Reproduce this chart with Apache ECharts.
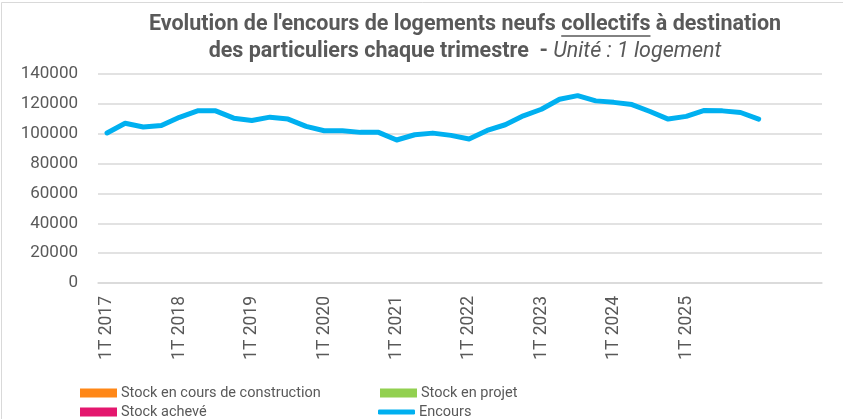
<!DOCTYPE html>
<html><head><meta charset="utf-8">
<script src="https://cdn.jsdelivr.net/npm/echarts@6/dist/echarts.min.js"></script>
<style>html,body{margin:0;padding:0;background:#fff}#c{width:843px;height:419px}</style>
</head><body><div id="c"></div><script>
// Quarterly categories (labels shown on 1st quarter only); trailing slots are empty
const categories = [
  '1T 2017','2T 2017','3T 2017','4T 2017',
  '1T 2018','2T 2018','3T 2018','4T 2018',
  '1T 2019','2T 2019','3T 2019','4T 2019',
  '1T 2020','2T 2020','3T 2020','4T 2020',
  '1T 2021','2T 2021','3T 2021','4T 2021',
  '1T 2022','2T 2022','3T 2022','4T 2022',
  '1T 2023','2T 2023','3T 2023','4T 2023',
  '1T 2024','2T 2024','3T 2024','4T 2024',
  '1T 2025','2T 2025','3T 2025','4T 2025',
  '','','',''
];
const encours = [
  100500, 107000, 104500, 105500, 111000, 115300, 115300, 110400,
  108900, 111100, 109800, 104900, 102000, 102000, 100900, 100900,
  95800, 99300, 100400, 98900, 96500, 102200, 106000, 112000,
  116400, 123100, 125500, 122000, 121000, 119500, 114900, 109800,
  111600, 115600, 115300, 114200, 109800
];
const stockConstruction = [];
const stockProjet = [];
const stockAcheve = [];
const seriesNames = ['Stock en cours de construction', 'Stock en projet', 'Stock achevé', 'Encours'];
const titleLine1 = ["Evolution de l'encours de logements neufs ", 'collectifs', ' à destination'];
const titleLine2 = ['des particuliers chaque trimestre  - ', 'Unité : 1 logement'];
const yMin = 0, yMax = 140000, yStep = 20000;

const FONT = "Roboto, 'Noto Sans', sans-serif";
const GREY = '#595959';
const TITLE_SIZE = 21.5;
const CX = 465;

const chart = echarts.init(document.getElementById('c'), null, {renderer: 'canvas'});

const mctx = document.createElement('canvas').getContext('2d');
function tw(txt, weight, style) {
  mctx.font = (style || 'normal') + ' ' + weight + ' ' + TITLE_SIZE + 'px ' + FONT;
  return mctx.measureText(txt).width;
}
function tstyle(txt, weight, style) {
  return {text: txt, fill: GREY, font: (style || 'normal') + ' ' + weight + ' ' + TITLE_SIZE + 'px ' + FONT,
    textAlign: 'left', textVerticalAlign: 'middle'};
}
const graphics = [
  {type: 'rect', shape: {x: 1.5, y: 2.5, width: 900, height: 500}, style: {fill: 'none', stroke: '#D9D9D9', lineWidth: 1}, silent: true, z: -1}
];
// line 1
const w1 = titleLine1.map(s => tw(s, 'bold'));
let x = CX - (w1[0] + w1[1] + w1[2]) / 2;
const y1 = 25, y2 = 52;
titleLine1.forEach((s, i) => {
  graphics.push({type: 'text', x: x, y: y1, style: tstyle(s, 'bold'), silent: true});
  if (i === 1) {
    graphics.push({type: 'line', shape: {x1: x, y1: y1 + 11, x2: x + w1[i], y2: y1 + 11}, style: {stroke: GREY, lineWidth: 1.3}, silent: true});
  }
  x += w1[i];
});
// line 2
const w2 = [tw(titleLine2[0], 'bold'), tw(titleLine2[1], 'normal', 'italic')];
x = CX - (w2[0] + w2[1]) / 2;
graphics.push({type: 'text', x: x, y: y2, style: tstyle(titleLine2[0], 'bold'), silent: true});
graphics.push({type: 'text', x: x + w2[0], y: y2, style: tstyle(titleLine2[1], 'normal', 'italic'), silent: true});

function legendItem(name, left, top, icon, h) {
  return {left: left, top: top, padding: 0, itemGap: 0, itemWidth: 37, itemHeight: h,
    data: [{name: name, icon: icon}], selectedMode: false,
    textStyle: {color: GREY, fontFamily: FONT, fontSize: 14.5, lineHeight: 18, padding: [0, 0, 0, -1]}};
}

const option = {
  backgroundColor: '#fff',
  animation: false,
  graphic: graphics,
  grid: {left: 98, right: 21, top: 74, bottom: 136, containLabel: false},
  xAxis: {
    type: 'category', data: categories, boundaryGap: true,
    axisLine: {lineStyle: {color: '#D9D9D9', width: 1.5}},
    axisTick: {show: false},
    axisLabel: {interval: 0, rotate: 90, margin: 13, color: GREY, fontFamily: FONT, fontSize: 17.5,
      formatter: v => (v.indexOf('1T') === 0 ? v : '')}
  },
  yAxis: {
    type: 'value', min: yMin, max: yMax, interval: yStep,
    axisLine: {show: false}, axisTick: {show: false},
    splitLine: {lineStyle: {color: '#D9D9D9', width: 1.5}},
    axisLabel: {margin: 20, color: GREY, fontFamily: FONT, fontSize: 17, formatter: v => String(v)}
  },
  legend: [
    legendItem(seriesNames[0], 80, 384, 'rect', 9),
    legendItem(seriesNames[2], 80, 403, 'rect', 9),
    legendItem(seriesNames[1], 380, 384, 'rect', 9),
    legendItem(seriesNames[3], 378, 403, 'roundRect', 5)
  ],
  series: [
    {name: seriesNames[0], type: 'bar', data: stockConstruction, itemStyle: {color: '#FF8717'}},
    {name: seriesNames[1], type: 'bar', data: stockProjet, itemStyle: {color: '#92D050'}},
    {name: seriesNames[2], type: 'bar', data: stockAcheve, itemStyle: {color: '#E4176E'}},
    {name: seriesNames[3], type: 'line', data: encours, symbol: 'none', smooth: false,
      lineStyle: {color: '#00B0F0', width: 5, cap: 'round', join: 'round'}, itemStyle: {color: '#00B0F0'}}
  ]
};
chart.setOption(option);
</script></body></html>
